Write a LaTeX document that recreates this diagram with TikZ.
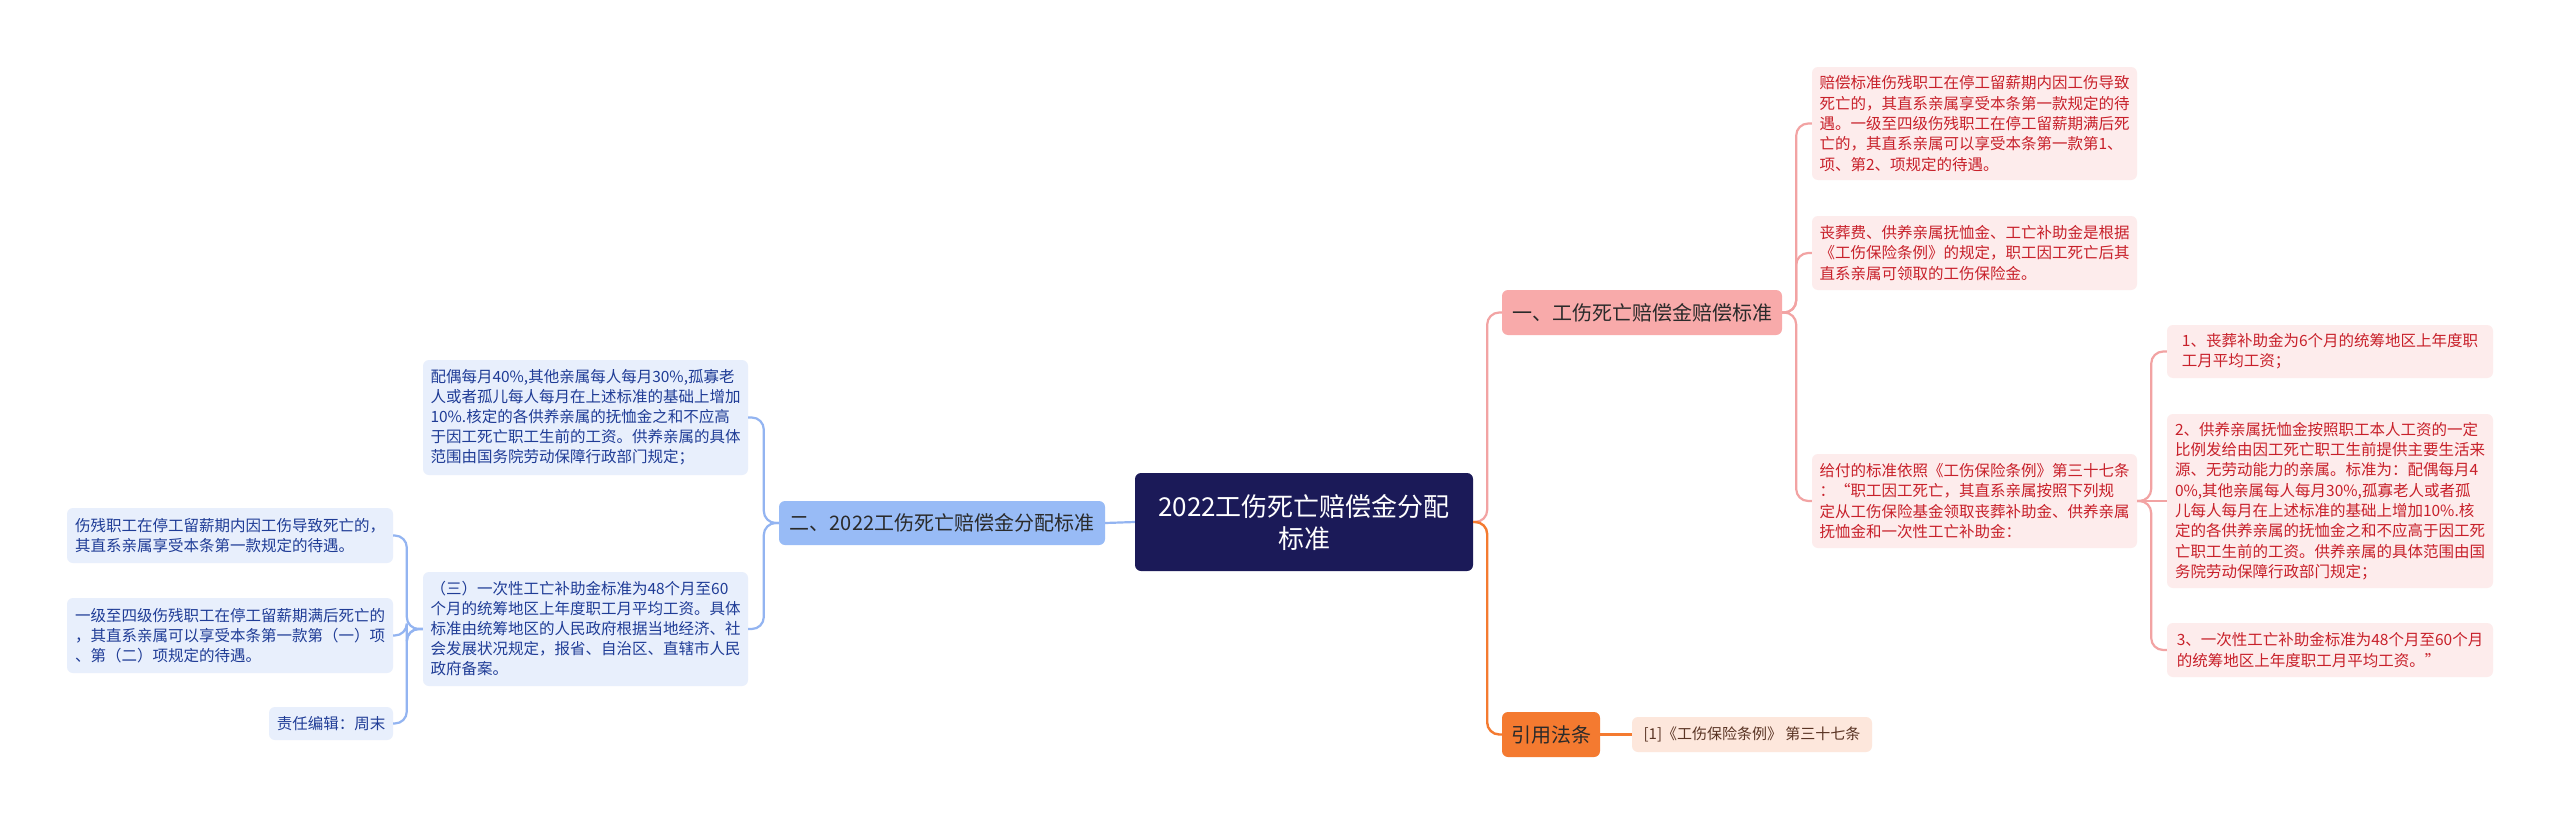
\documentclass[tikz,border=0pt]{standalone}
\usepackage{fontspec}
\setmainfont{Noto Sans CJK SC}
\definecolor{rootfill}{HTML}{1B1A58}
\definecolor{pinkfill}{HTML}{F8AAAA}
\definecolor{pinkleaf}{HTML}{FDECEC}
\definecolor{pinktext}{HTML}{C8202A}
\definecolor{pinkline}{HTML}{F2A3A3}
\definecolor{bluefill}{HTML}{98BBF6}
\definecolor{blueleaf}{HTML}{E8EFFC}
\definecolor{bluetext}{HTML}{1F3C96}
\definecolor{blueline}{HTML}{93B4F1}
\definecolor{orangefill}{HTML}{F47A30}
\definecolor{orangeleaf}{HTML}{FDE7DC}
\definecolor{orangetext}{HTML}{5A3424}
\definecolor{darktext}{HTML}{2A2A2A}
\tikzset{
  box/.style={rounded corners=6pt, align=left, inner sep=0pt},
  rootbox/.style={box, fill=rootfill, text=white, align=center, font=\fontsize{26}{32}\selectfont},
  branchone/.style={box, fill=pinkfill, text=darktext, font=\fontsize{20}{24}\selectfont},
  branchtwo/.style={box, fill=bluefill, text=darktext, font=\fontsize{20}{24}\selectfont},
  branchthree/.style={box, fill=orangefill, text=darktext, font=\fontsize{20}{24}\selectfont},
  pinkbox/.style={box, fill=pinkleaf, text=pinktext, font=\fontsize{15.5}{20.3}\selectfont},
  bluebox/.style={box, fill=blueleaf, text=bluetext, font=\fontsize{15.5}{20}\selectfont},
  citebox/.style={box, fill=orangeleaf, text=orangetext, font=\fontsize{15}{19}\selectfont},
  pinkconn/.style={draw=pinkline, line width=2.2pt, rounded corners=12pt},
  blueconn/.style={draw=blueline, line width=2.2pt, rounded corners=12pt},
  orangeconn/.style={draw=orangefill, line width=2.4pt, rounded corners=12pt},
}
\begin{document}
\begin{tikzpicture}[x=1pt,y=-1pt]
\useasboundingbox[fill=white] (0,0) rectangle (2560,825);

\node[rootbox, minimum width=338pt, minimum height=98pt] (root) at (1304,522) {2022工伤死亡赔偿金分配\\标准};

\node[branchone, minimum width=280pt, minimum height=45pt] (b1) at (1642,312.5) {一、工伤死亡赔偿金赔偿标准};
\node[branchtwo, minimum width=326pt, minimum height=44pt] (b2) at (942,523) {二、2022工伤死亡赔偿金分配标准};
\node[branchthree, minimum width=98pt, minimum height=45pt] (b3) at (1551,734.5) {引用法条};

\node[citebox, minimum width=240pt, minimum height=35pt] (cite) at (1752,734.5) {[1]《工伤保险条例》 第三十七条};

\node[pinkbox, minimum width=325pt, minimum height=113pt] (l1) at (1974.5,123.5) {赔偿标准伤残职工在停工留薪期内因工伤导致\\死亡的，其直系亲属享受本条第一款规定的待\\遇。一级至四级伤残职工在停工留薪期满后死\\亡的，其直系亲属可以享受本条第一款第1、\\项、第2、项规定的待遇。};
\node[pinkbox, minimum width=325pt, minimum height=74pt] (l2) at (1974.5,253) {丧葬费、供养亲属抚恤金、工亡补助金是根据\\《工伤保险条例》的规定，职工因工死亡后其\\直系亲属可领取的工伤保险金。};
\node[pinkbox, minimum width=325pt, minimum height=94pt] (l3) at (1974.5,501) {给付的标准依照《工伤保险条例》第三十七条\\：“职工因工死亡，其直系亲属按照下列规\\定从工伤保险基金领取丧葬补助金、供养亲属\\抚恤金和一次性工亡补助金：};

\node[pinkbox, minimum width=326pt, minimum height=53pt] (c1) at (2330,351.5) {1、丧葬补助金为6个月的统筹地区上年度职\\工月平均工资；};
\node[pinkbox, minimum width=326pt, minimum height=174pt] (c2) at (2330,501) {2、供养亲属抚恤金按照职工本人工资的一定\\比例发给由因工死亡职工生前提供主要生活来\\源、无劳动能力的亲属。标准为：配偶每月4\\0\%,其他亲属每人每月30\%,孤寡老人或者孤\\儿每人每月在上述标准的基础上增加10\%.核\\定的各供养亲属的抚恤金之和不应高于因工死\\亡职工生前的工资。供养亲属的具体范围由国\\务院劳动保障行政部门规定；};
\node[pinkbox, minimum width=326pt, minimum height=54pt] (c3) at (2330,650) {3、一次性工亡补助金标准为48个月至60个月\\的统筹地区上年度职工月平均工资。”};

\node[bluebox, minimum width=325pt, minimum height=115pt] (bl1) at (585.5,417.5) {配偶每月40\%,其他亲属每人每月30\%,孤寡老\\人或者孤儿每人每月在上述标准的基础上增加\\10\%.核定的各供养亲属的抚恤金之和不应高\\于因工死亡职工生前的工资。供养亲属的具体\\范围由国务院劳动保障行政部门规定；};
\node[bluebox, minimum width=325pt, minimum height=114pt] (bl2) at (585.5,629) {（三）一次性工亡补助金标准为48个月至60\\个月的统筹地区上年度职工月平均工资。具体\\标准由统筹地区的人民政府根据当地经济、社\\会发展状况规定，报省、自治区、直辖市人民\\政府备案。};

\node[bluebox, minimum width=326pt, minimum height=55pt] (d1) at (230,535.5) {伤残职工在停工留薪期内因工伤导致死亡的，\\其直系亲属享受本条第一款规定的待遇。};
\node[bluebox, minimum width=326pt, minimum height=75pt] (d2) at (230,635.5) {一级至四级伤残职工在停工留薪期满后死亡的\\，其直系亲属可以享受本条第一款第（一）项\\、第（二）项规定的待遇。};
\node[bluebox, minimum width=124pt, minimum height=33pt] (d3) at (331,723.5) {责任编辑：周末};

% root connectors
\draw[pinkconn] (root.east) -- ([xshift=14pt]root.east) |- (b1.west);
\draw[orangeconn] (root.east) -- ([xshift=14pt]root.east) |- (b3.west);
\draw[blueconn] (root.west) -- (b2.east);
\draw[orangeconn] (b3.east) -- (cite.west);

% branch one
\draw[pinkconn] (b1.east) -- ([xshift=14pt]b1.east) |- (l1.west);
\draw[pinkconn] (b1.east) -- ([xshift=14pt]b1.east) |- (l2.west);
\draw[pinkconn] (b1.east) -- ([xshift=14pt]b1.east) |- (l3.west);
\draw[pinkconn] (l3.east) -- ([xshift=14pt]l3.east) |- (c1.west);
\draw[pinkconn] (l3.east) -- (c2.west);
\draw[pinkconn] (l3.east) -- ([xshift=14pt]l3.east) |- (c3.west);

% branch two
\draw[blueconn] (b2.west) -- ([xshift=-15pt]b2.west) |- (bl1.east);
\draw[blueconn] (b2.west) -- ([xshift=-15pt]b2.west) |- (bl2.east);
\draw[blueconn] (bl2.west) -- ([xshift=-16pt]bl2.west) |- (d1.east);
\draw[blueconn] (bl2.west) -- ([xshift=-16pt]bl2.west) |- (d2.east);
\draw[blueconn] (bl2.west) -- ([xshift=-16pt]bl2.west) |- (d3.east);
\end{tikzpicture}
\end{document}
